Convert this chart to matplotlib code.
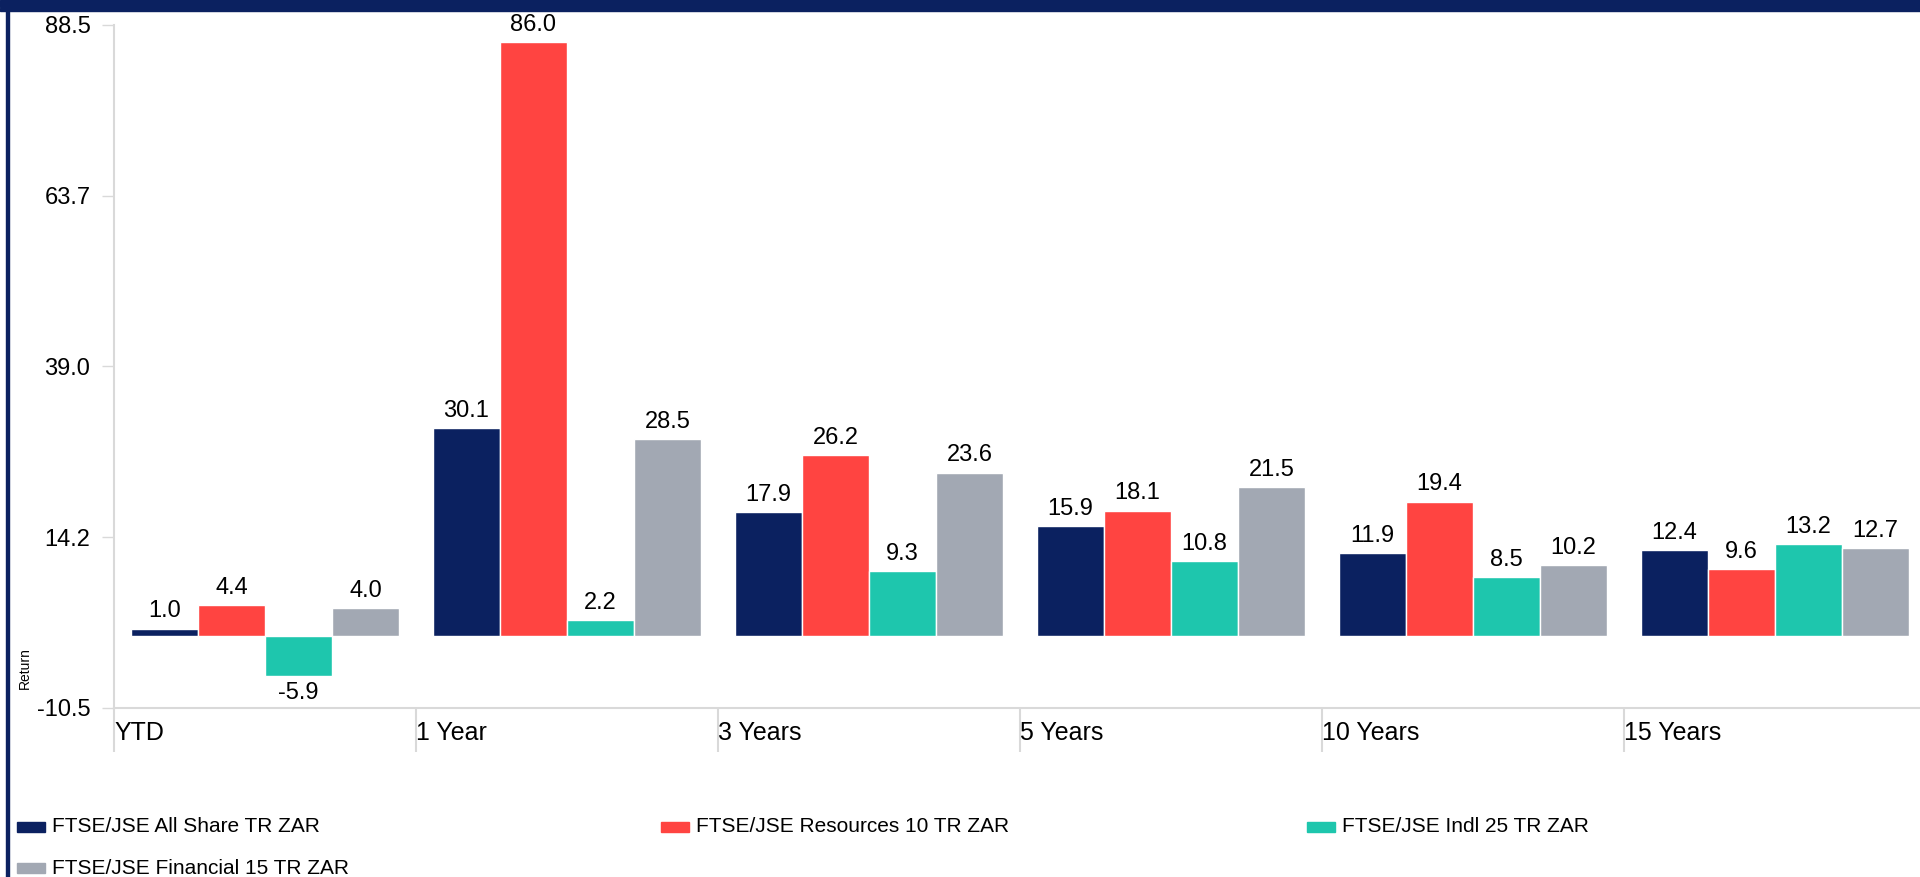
import numpy as np
import matplotlib
matplotlib.use('Agg')
import matplotlib.pyplot as plt
from matplotlib.patches import Rectangle

plt.rcParams['font.family'] = ['Liberation Sans', 'DejaVu Sans']

periods = ['YTD', '1 Year', '3 Years', '5 Years', '10 Years', '15 Years']
series_names = ['FTSE/JSE All Share TR ZAR', 'FTSE/JSE Resources 10 TR ZAR',
                'FTSE/JSE Indl 25 TR ZAR', 'FTSE/JSE Financial 15 TR ZAR']
all_share = [1.0, 30.1, 17.9, 15.9, 11.9, 12.4]
resources = [4.4, 86.0, 26.2, 18.1, 19.4, 9.6]
industrials = [-5.9, 2.2, 9.3, 10.8, 8.5, 13.2]
financials = [4.0, 28.5, 23.6, 21.5, 10.2, 12.7]
y_ticks = [-10.5, 14.25, 39.0, 63.75, 88.5]
y_tick_labels = ['-10.5', '14.2', '39.0', '63.7', '88.5']

colors = ['#0B2160', '#FF4441', '#1EC6AD', '#A2A8B3']
navy = '#0B2160'
axis_grey = '#D9D9D9'

W, H = 1920, 877
fig = plt.figure(figsize=(W / 100, H / 100), dpi=100)
ax = fig.add_axes([114 / W, 1 - 708 / H, 1812 / W, (708 - 25) / H])

x = np.arange(len(periods))
bw = 0.222
data = [all_share, resources, industrials, financials]
for i, vals in enumerate(data):
    pos = x + (i - 1.5) * bw
    bars = ax.bar(pos, vals, width=bw, color=colors[i], edgecolor='white', linewidth=1)
    # value labels above positive bars, below negative ones
    for b, v in zip(bars, vals):
        if v >= 0:
            ax.annotate('%.1f' % v, (b.get_x() + bw / 2, v), xytext=(0, 4.5),
                        textcoords='offset points', ha='center', va='bottom', fontsize=17)
        else:
            ax.annotate('%.1f' % v, (b.get_x() + bw / 2, v), xytext=(0, -4),
                        textcoords='offset points', ha='center', va='top', fontsize=17)

ax.set_xlim(-0.5, len(periods) - 0.5)
ax.set_ylim(-10.5, 88.5)
ax.set_yticks(y_ticks)
ax.set_yticklabels(y_tick_labels, fontsize=17)
ax.tick_params(axis='y', length=9, width=1, color=axis_grey, pad=8)

ax.set_xticks(x - 0.5)
ax.set_xticklabels(periods, fontsize=18, ha='left')
ax.tick_params(axis='x', length=32, width=1.5, color=axis_grey, pad=-23)

for s in ['top', 'right']:
    ax.spines[s].set_visible(False)
for s in ['left', 'bottom']:
    ax.spines[s].set_color(axis_grey)
    ax.spines[s].set_linewidth(1.5)

fig.text(25 / W, 1 - 668 / H, 'Return', rotation=90, fontsize=10, ha='center', va='center')

# legend drawn by hand in two rows
legend_pos = [(17, 827), (661, 827), (1307, 827), (17, 868)]
for (lx, ly), name, c in zip(legend_pos, series_names, colors):
    fig.add_artist(Rectangle((lx / W, 1 - (ly + 5) / H), 28 / W, 10 / H,
                             transform=fig.transFigure, color=c))
    fig.text((lx + 35) / W, 1 - ly / H, name, fontsize=15, ha='left', va='center')

# navy frame
fig.add_artist(Rectangle((0, 1 - 7 / H), 1, 7 / H, transform=fig.transFigure, color=navy))
fig.add_artist(Rectangle((0, 1 - 11 / H), 1, 3 / H, transform=fig.transFigure, color=navy))
fig.add_artist(Rectangle((6 / W, 0), 3 / W, 1 - 8 / H, transform=fig.transFigure, color=navy))

fig.savefig('out.png', dpi=100)
